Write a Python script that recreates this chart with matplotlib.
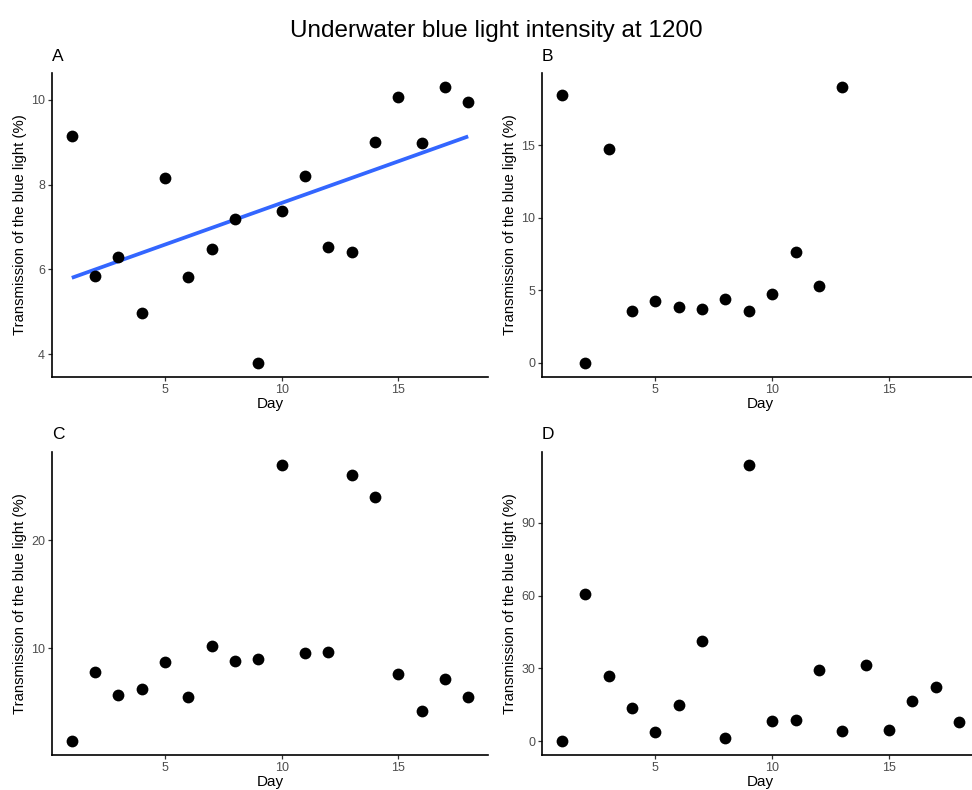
import numpy as np
import matplotlib
matplotlib.use("Agg")
import matplotlib.pyplot as plt

plt.rcParams["font.family"] = ["Liberation Sans", "DejaVu Sans"]

W, H = 972, 790

days = list(range(1, 19))

# transmission (%) per day for each site
site_a = [9.14, 5.84, 6.28, 4.96, 8.16, 5.81, 6.47, 7.18, 3.79,
          7.37, 8.20, 6.53, 6.41, 9.00, 10.06, 8.97, 10.30, 9.94]
site_b = [18.43, 0.0, 14.76, 3.60, 4.29, 3.88, 3.74, 4.43, 3.56,
          4.77, 7.64, 5.28, 19.0]
site_c = [1.41, 7.85, 5.70, 6.26, 8.74, 5.52, 10.21, 8.83, 9.04,
          26.89, 9.53, 9.62, 25.97, 24.01, 7.60, 4.17, 7.14, 5.52]
site_d = [0.0, 60.7, 26.8, 13.8, 3.7, 14.9, 41.4, 1.4, 113.7,
          8.2, 8.8, 29.5, 4.4, 31.5, 4.8, 16.4, 22.2, 8.0]

panels = [
    ("A", site_a, [4, 6, 8, 10], True),
    ("B", site_b, [0, 5, 10, 15], False),
    ("C", site_c, [10, 20], False),
    ("D", site_d, [0, 30, 60, 90], False),
]

# panel boxes in pixels: left, top, right, bottom
boxes = [
    (52, 73.3, 488, 376.7),
    (542, 73.3, 979, 376.7),
    (52, 451.7, 488, 755),
    (542, 451.7, 979, 755),
]

fig = plt.figure(figsize=(W / 100, H / 100), dpi=100)

for (letter, vals, yticks, fit), (l, t, r, b) in zip(panels, boxes):
    ax = fig.add_axes([l / W, 1 - b / H, (r - l) / W, (b - t) / H])
    x = np.array(days[:len(vals)])
    y = np.array(vals)
    ax.scatter(x, y, s=72, color="black", zorder=3, linewidths=0)
    if fit:
        # least-squares trend line
        k, c = np.polyfit(x, y, 1)
        xs = np.array([x.min(), x.max()])
        ax.plot(xs, k * xs + c, color="#3366FF", lw=2.7, zorder=2,
                solid_capstyle="butt")

    ax.set_xlim(0.15, 18.85)
    pad = 0.05 * (y.max() - y.min())
    ax.set_ylim(y.min() - pad, y.max() + pad)
    ax.set_xticks([5, 10, 15])
    ax.set_yticks(yticks)

    for side in ("top", "right"):
        ax.spines[side].set_visible(False)
    for side in ("left", "bottom"):
        ax.spines[side].set_linewidth(1.2)
        ax.spines[side].set_color("black")
    ax.tick_params(length=3, width=0.9, color="#333333",
                   labelsize=9, labelcolor="#4D4D4D", pad=2)

    ax.set_xlabel("Day", fontsize=11, labelpad=1)
    ax.set_ylabel("Transmission of the blue light (%)", fontsize=10.7,
                  labelpad=3)
    ax.annotate(letter, xy=(0, 1), xycoords="axes fraction",
                xytext=(0, 9), textcoords="offset points",
                fontsize=12.5, va="baseline", ha="left")

fig.text(496.5 / W, 1 - 36.7 / H, "Underwater blue light intensity at 1200",
         fontsize=17.5, ha="center", va="baseline")

fig.savefig("out.png", dpi=100)
